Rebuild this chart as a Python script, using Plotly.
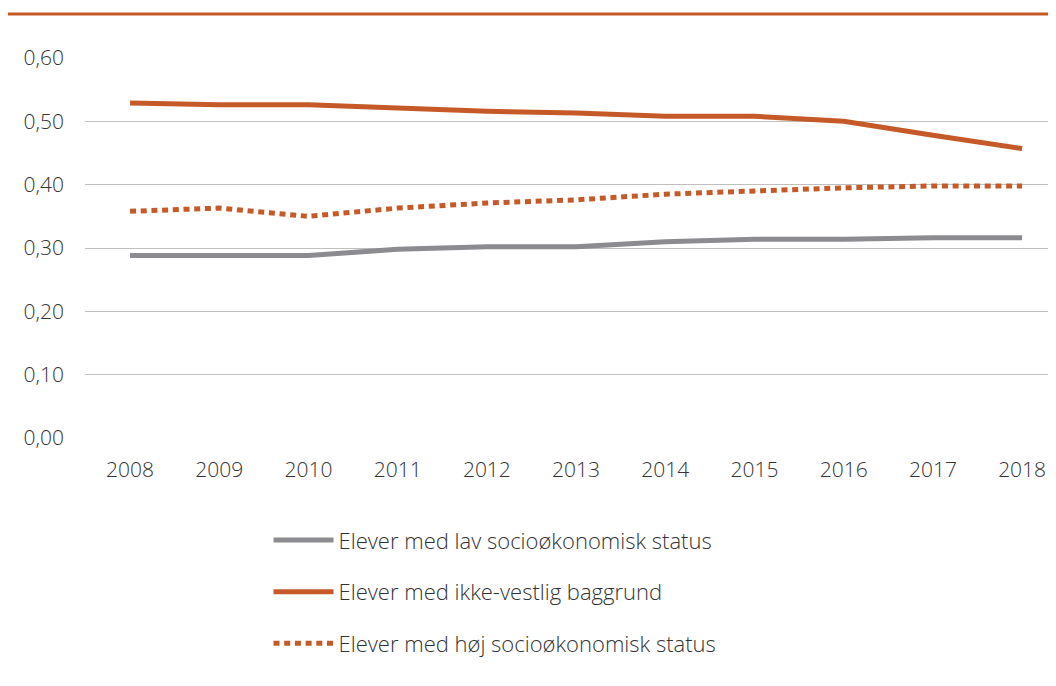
import plotly.graph_objects as go

years = [2008, 2009, 2010, 2011, 2012, 2013, 2014, 2015, 2016, 2017, 2018]
lav_status = [0.288, 0.288, 0.288, 0.298, 0.302, 0.302, 0.310, 0.314, 0.314, 0.316, 0.316]
ikke_vestlig = [0.529, 0.526, 0.526, 0.521, 0.516, 0.513, 0.508, 0.508, 0.500, 0.478, 0.457]
hoj_status = [0.358, 0.363, 0.350, 0.363, 0.371, 0.376, 0.385, 0.390, 0.395, 0.398, 0.398]
y_ticks = [0.0, 0.1, 0.2, 0.3, 0.4, 0.5, 0.6]

ORANGE = "#C55A28"
GREY = "#8C8C90"
TEXT = "#333333"

fig = go.Figure()
fig.add_trace(go.Scatter(
    x=years, y=lav_status, mode="lines", name="Elever med lav socioøkonomisk status",
    line=dict(color=GREY, width=5), legendgroup="a"
))
fig.add_trace(go.Scatter(
    x=years, y=ikke_vestlig, mode="lines", name="Elever med ikke-vestlig baggrund",
    line=dict(color=ORANGE, width=5), legendgroup="b"
))
fig.add_trace(go.Scatter(
    x=years, y=hoj_status, mode="lines", name="Elever med høj socioøkonomisk status",
    line=dict(color=ORANGE, width=5, dash="6px,4.7px"), legendgroup="c"
))

# thin orange rule at the very top of the figure
fig.add_shape(type="line", xref="paper", yref="paper", x0=-0.09, x1=1.0,
              y0=1.1158, y1=1.1158, line=dict(color=ORANGE, width=3))

fig.update_layout(
    width=1048, height=678, plot_bgcolor="white", paper_bgcolor="white",
    font=dict(family="Open Sans", size=21, color=TEXT, weight=300),
    separators=",.",
    margin=dict(l=77, r=0, t=50, b=248),
    xaxis=dict(range=[2007.495, 2018.38], tickvals=years, showgrid=False,
               zeroline=False, showline=False, ticks="", ticklabelstandoff=17),
    yaxis=dict(range=[0, 0.6], tickvals=y_ticks, tickformat=".2f", showgrid=True,
               gridcolor="#BFBFBF", gridwidth=1, zeroline=False, showline=False,
               ticks="", ticklabelstandoff=20),
    showlegend=True,
    legend=dict(orientation="v", x=0.189, y=-0.214, xanchor="left", yanchor="top",
                traceorder="grouped", tracegroupgap=20, itemwidth=60,
                font=dict(size=22, color=TEXT, weight=300), bgcolor="rgba(0,0,0,0)"),
)

fig.write_html("out.html")
